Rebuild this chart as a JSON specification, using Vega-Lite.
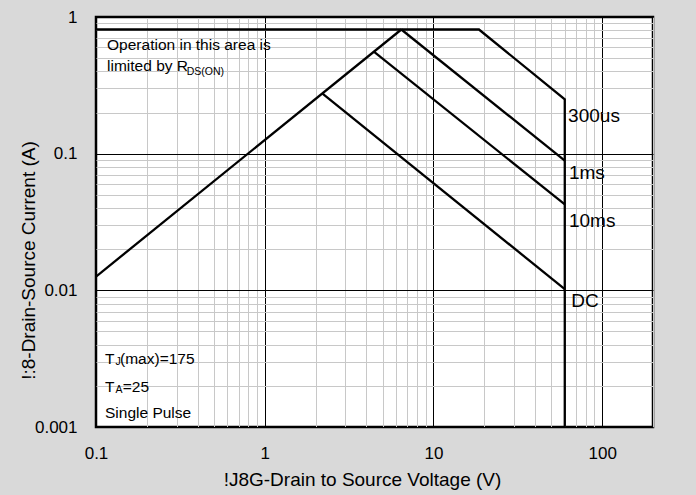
{
  "$schema": "https://vega.github.io/schema/vega-lite/v6.json",
  "width": 557,
  "height": 410,
  "autosize": {"type": "none"},
  "padding": {"left": 96, "top": 17, "right": 43, "bottom": 68},
  "background": "#d9d9d9",
  "config": {
    "font": "Liberation Sans",
    "view": {"stroke": "black", "strokeWidth": 2.5, "fill": "white"}
  },
  "datasets": {
    "curves": [
      {"s": "rds", "o": 1, "v": 0.1, "i": 0.0126},
      {"s": "rds", "o": 2, "v": 6.45, "i": 0.81},
      {"s": "300us", "o": 1, "v": 0.1, "i": 0.81},
      {"s": "300us", "o": 2, "v": 18.6, "i": 0.81},
      {"s": "300us", "o": 3, "v": 60, "i": 0.25},
      {"s": "300us", "o": 4, "v": 60, "i": 0.001},
      {"s": "1ms", "o": 1, "v": 6.45, "i": 0.81},
      {"s": "1ms", "o": 2, "v": 60, "i": 0.089},
      {"s": "10ms", "o": 1, "v": 4.45, "i": 0.555},
      {"s": "10ms", "o": 2, "v": 60, "i": 0.0425},
      {"s": "DC", "o": 1, "v": 2.2, "i": 0.275},
      {"s": "DC", "o": 2, "v": 60, "i": 0.0102}
    ],
    "curveLabels": [
      {"t": "300us", "v": 62.8, "i": 0.189},
      {"t": "1ms", "v": 63.5, "i": 0.0727},
      {"t": "10ms", "v": 63.5, "i": 0.0319},
      {"t": "DC", "v": 65.5, "i": 0.00832}
    ],
    "notes": [
      {"t": "Operation in this area is", "v": 0.1163, "i": 0.625},
      {"t": "limited by R", "v": 0.1163, "i": 0.441},
      {"t": "T", "v": 0.1131, "i": 0.00313},
      {"t": "(max)=175", "v": 0.1388, "i": 0.00313},
      {"t": "T", "v": 0.1131, "i": 0.00195},
      {"t": "=25", "v": 0.1441, "i": 0.00195},
      {"t": "Single Pulse", "v": 0.1131, "i": 0.00126}
    ],
    "subs": [
      {"t": "DS(ON)", "v": 0.345, "i": 0.399},
      {"t": "J", "v": 0.1306, "i": 0.00297},
      {"t": "A", "v": 0.1306, "i": 0.00186}
    ]
  },
  "layer": [
    {
      "data": {"name": "curves"},
      "mark": {"type": "line", "color": "black", "strokeWidth": 2.3, "clip": true},
      "encoding": {
        "x": {
          "field": "v",
          "type": "quantitative",
          "scale": {"type": "log", "domain": [0.1, 200], "nice": false},
          "axis": {
            "values": [0.1, 0.2, 0.3, 0.4, 0.5, 0.6, 0.7, 0.8, 0.9, 1, 2, 3, 4, 5, 6, 7, 8, 9, 10, 20, 30, 40, 50, 60, 70, 80, 90, 100, 200],
            "labelExpr": "abs(log(datum.value)/LN10 - round(log(datum.value)/LN10)) < 0.001 ? format(datum.value, '~g') : ''",
            "grid": true,
            "gridColor": {"condition": {"test": "abs(log(datum.value)/LN10 - round(log(datum.value)/LN10)) < 0.001", "value": "black"}, "value": "#c8c8c8"},
            "gridWidth": 1,
            "gridOpacity": 1,
            "ticks": false,
            "domain": false,
            "labelFontSize": 17,
            "labelColor": "black",
            "labelPadding": 18,
            "labelFlush": false,
            "labelOverlap": false,
            "title": "!J8G-Drain to Source Voltage (V)",
            "titleFontSize": 19,
            "titleFontWeight": "normal",
            "titleColor": "black",
            "titleX": 266,
            "titleY": 52,
            "titleAlign": "center",
            "titleBaseline": "middle"
          }
        },
        "y": {
          "field": "i",
          "type": "quantitative",
          "scale": {"type": "log", "domain": [0.001, 1], "nice": false},
          "axis": {
            "values": [0.001, 0.002, 0.003, 0.004, 0.005, 0.006, 0.007, 0.008, 0.009, 0.01, 0.02, 0.03, 0.04, 0.05, 0.06, 0.07, 0.08, 0.09, 0.1, 0.2, 0.3, 0.4, 0.5, 0.6, 0.7, 0.8, 0.9, 1],
            "labelExpr": "abs(log(datum.value)/LN10 - round(log(datum.value)/LN10)) < 0.001 ? format(datum.value, '~g') : ''",
            "grid": true,
            "gridColor": {"condition": {"test": "abs(log(datum.value)/LN10 - round(log(datum.value)/LN10)) < 0.001", "value": "black"}, "value": "#c8c8c8"},
            "gridWidth": 1,
            "gridOpacity": 1,
            "ticks": false,
            "domain": false,
            "labelFontSize": 17,
            "labelColor": "black",
            "labelPadding": 19,
            "labelFlush": false,
            "labelOverlap": false,
            "title": "!:8-Drain-Source Current (A)",
            "titleFontSize": 19,
            "titleFontWeight": "normal",
            "titleColor": "black",
            "titleAngle": -90,
            "titleX": -68,
            "titleY": 243,
            "titleAlign": "center",
            "titleBaseline": "middle"
          }
        },
        "detail": {"field": "s"},
        "order": {"field": "o", "type": "quantitative"}
      }
    },
    {
      "data": {"name": "curveLabels"},
      "mark": {"type": "text", "align": "left", "baseline": "middle", "fontSize": 19, "color": "black"},
      "encoding": {
        "x": {"field": "v", "type": "quantitative"},
        "y": {"field": "i", "type": "quantitative"},
        "text": {"field": "t"}
      }
    },
    {
      "data": {"name": "notes"},
      "mark": {"type": "text", "align": "left", "baseline": "middle", "fontSize": 15.5, "color": "black"},
      "encoding": {
        "x": {"field": "v", "type": "quantitative"},
        "y": {"field": "i", "type": "quantitative"},
        "text": {"field": "t"}
      }
    },
    {
      "data": {"name": "subs"},
      "mark": {"type": "text", "align": "left", "baseline": "middle", "fontSize": 10.5, "color": "black"},
      "encoding": {
        "x": {"field": "v", "type": "quantitative"},
        "y": {"field": "i", "type": "quantitative"},
        "text": {"field": "t"}
      }
    }
  ]
}
